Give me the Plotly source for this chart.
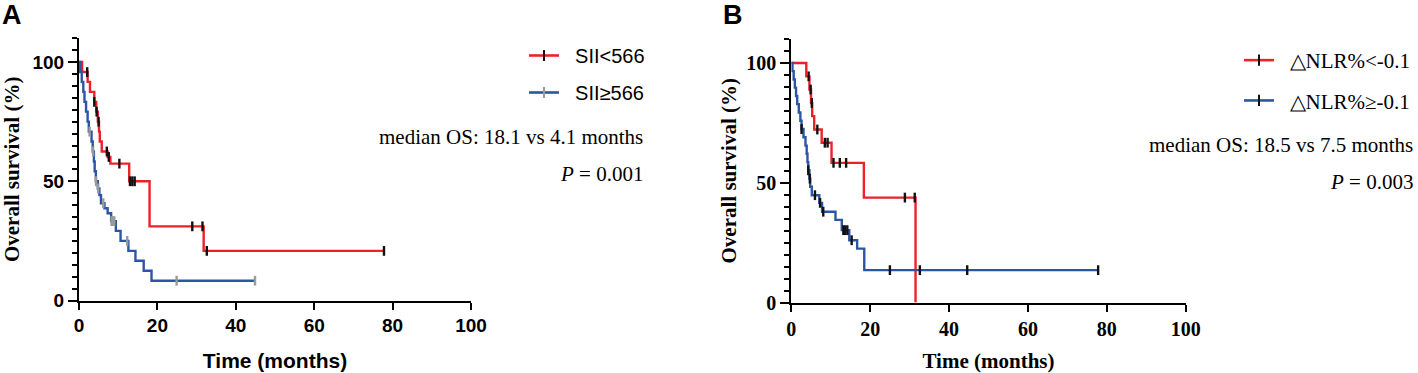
import numpy as np
import plotly.graph_objects as go

W, H = 1418, 373

# ---------------- Data ----------------
# Panel A : SII groups
a_low_t = [0, 0.8, 2.2, 2.8, 3.9, 4.4, 4.8, 5.1, 5.3, 5.8, 7.3, 8.0, 12.8, 18.0, 31.8, 77.8]
a_low_s = [100, 95.8, 91.7, 87.5, 83.3, 79.2, 75.0, 70.8, 66.7, 62.5, 60.2, 57.4, 50.0, 31.1, 20.8, 20.8]
a_low_cens = [2.1, 3.9, 4.5, 5.0, 7.1, 7.6, 10.3, 13.0, 13.6, 14.2, 28.9, 31.5, 32.6, 77.8]

a_high_t = [0, 0.3, 0.7, 1.1, 1.4, 1.8, 2.2, 2.5, 3.2, 3.5, 3.8, 4.0, 4.3, 4.8, 5.2, 5.6,
            6.5, 7.3, 8.2, 9.4, 10.6, 12.6, 14.4, 16.5, 18.5, 44.9]
a_high_s = [100, 95.8, 91.7, 87.5, 83.3, 79.2, 75.0, 70.8, 66.7, 62.5, 58.3, 54.2, 50.0, 47.0, 44.2, 40.8,
            38.7, 36.6, 33.3, 29.2, 25.0, 20.8, 16.7, 12.5, 8.3, 8.3]
a_high_cens = [2.7, 3.6, 4.35, 4.9, 6.2, 8.3, 8.6, 9.0, 12.3, 24.9, 44.9]

a_names = ["SII<566", "SII≥566"]
a_median = "median OS: 18.1 vs 4.1 months"
a_p = "0.001"

# Panel B : ΔNLR% groups
b_low_t = [0, 3.8, 4.6, 5.0, 5.3, 5.8, 7.7, 10.2, 18.4, 31.5]
b_low_s = [100, 94.4, 88.9, 83.3, 77.8, 72.2, 66.7, 58.3, 43.8, 0]
b_low_cens = [4.4, 4.9, 5.2, 6.6, 8.5, 9.2, 10.7, 12.3, 13.9, 28.8, 31.3]

b_high_t = [0, 0.3, 0.6, 0.9, 1.2, 1.5, 1.9, 2.3, 2.6, 3.1, 3.6, 3.9, 4.1, 4.3, 4.6, 4.8, 5.2,
            7.1, 7.8, 11.2, 12.8, 14.7, 16.7, 18.5, 77.8]
b_high_s = [100, 96.6, 93.1, 89.7, 86.2, 82.8, 79.3, 75.9, 72.4, 69.0, 65.5, 62.1, 58.6, 55.2, 51.7, 48.3, 44.8,
            41.6, 37.9, 34.5, 30.2, 26.0, 22.5, 13.5, 13.5]
b_high_cens = [2.6, 4.3, 4.7, 6.0, 7.3, 8.1, 13.2, 13.6, 14.2, 15.3, 25.0, 32.6, 44.6, 77.8]

b_names = ["△NLR%<-0.1", "△NLR%≥-0.1"]
b_median = "median OS: 18.5 vs 7.5 months"
b_p = "0.003"

x_ticks = [0, 20, 40, 60, 80, 100]
y_ticks = [0, 50, 100]

# ---------------- Styling ----------------
RED = "#EC2228"
BLUE = "#2C55A6"
BLACK = "#111111"
GREY = "#9A9A9A"
SANS = "Liberation Sans, Arial, sans-serif"
SERIF = "Liberation Serif, Times New Roman, serif"
NB = "\u00a0\u00a0"  # small gap between legend key and text


def surv_at(ts, ss, t):
    ts = np.asarray(ts, float)
    idx = np.searchsorted(ts, np.asarray(t, float), side="right") - 1
    return np.asarray(ss, float)[idx]


fig = go.Figure()


def add_group(t, s, cens, color, tickcolor, xa, ya, name, legend):
    fig.add_trace(go.Scatter(x=t, y=s, mode="lines", line=dict(color=color, width=2.4, shape="hv"),
                             xaxis=xa, yaxis=ya, showlegend=False, hoverinfo="skip"))
    fig.add_trace(go.Scatter(x=cens, y=surv_at(t, s, cens), mode="markers",
                             marker=dict(symbol="line-ns", size=7, line=dict(width=2.4, color=tickcolor)),
                             xaxis=xa, yaxis=ya, showlegend=False, cliponaxis=False, hoverinfo="skip"))
    # legend entry
    fig.add_trace(go.Scatter(x=[None], y=[None], mode="lines+markers", name=NB + name,
                             line=dict(color=color, width=2.6),
                             marker=dict(symbol="line-ns", size=8, line=dict(width=2, color=tickcolor)),
                             xaxis=xa, yaxis=ya, legend=legend, legendgroup=name))


add_group(a_low_t, a_low_s, a_low_cens, RED, BLACK, "x", "y", a_names[0], "legend")
add_group(a_high_t, a_high_s, a_high_cens, BLUE, GREY, "x", "y", a_names[1], "legend")
add_group(b_low_t, b_low_s, b_low_cens, RED, BLACK, "x2", "y2", b_names[0], "legend2")
add_group(b_high_t, b_high_s, b_high_cens, BLUE, BLACK, "x2", "y2", b_names[1], "legend2")


def px_x(p):
    return p / W


def px_y(p):
    return (H - p) / H


def xaxis_cfg(dom, fam, fsize, tsize, standoff):
    return dict(domain=dom, range=[0, 100], tickvals=x_ticks, showline=True, linecolor="black", linewidth=2,
                ticks="outside", ticklen=7, tickwidth=2, tickcolor="black", showgrid=False, zeroline=False,
                automargin=False,
                tickfont=dict(family=fam, size=fsize, color="black", weight="bold"),
                title=dict(text="Time (months)", font=dict(family=fam, size=tsize, color="black", weight="bold"),
                           standoff=standoff),
                fixedrange=True)


def yaxis_cfg(dom, anchor, fam, fsize, tsize, standoff):
    return dict(domain=dom, anchor=anchor, range=[0, 110], tickvals=y_ticks, showline=True, linecolor="black",
                linewidth=2, ticks="outside", ticklen=9, tickwidth=2, tickcolor="black", showgrid=False,
                zeroline=False, automargin=False,
                minor=dict(tickmode="linear", tick0=0, dtick=5, ticks="outside", ticklen=5, tickwidth=2,
                           tickcolor="black", showgrid=False),
                tickfont=dict(family=fam, size=fsize, color="black", weight="bold"),
                title=dict(text="Overall survival (%)",
                           font=dict(family=SERIF, size=tsize, color="black", weight="bold"), standoff=standoff),
                fixedrange=True)


fig.update_layout(
    template="none",
    width=W, height=H, margin=dict(l=0, r=0, t=0, b=0, pad=0, autoexpand=False),
    paper_bgcolor="white", plot_bgcolor="white",
    xaxis=xaxis_cfg([px_x(79), px_x(471)], SANS, 19, 21, 18) | dict(anchor="y"),
    yaxis=yaxis_cfg([px_y(300.5), px_y(38.2)], "x", SANS, 19, 21, 8),
    xaxis2=xaxis_cfg([px_x(791.3), px_x(1185.7)], SERIF, 20, 21, 17) | dict(anchor="y2"),
    yaxis2=yaxis_cfg([px_y(302.5), px_y(39.0)], "x2", SERIF, 20, 21, 4),
    legend=dict(x=px_x(524), y=px_y(36), xanchor="left", yanchor="top", bgcolor="rgba(0,0,0,0)",
                font=dict(family=SANS, size=20, color="black"), itemwidth=30, tracegroupgap=8,
                traceorder="grouped"),
    legend2=dict(x=px_x(1239), y=px_y(40), xanchor="left", yanchor="top", bgcolor="rgba(0,0,0,0)",
                 font=dict(family=SERIF, size=21, color="black"), itemwidth=30, tracegroupgap=10,
                 traceorder="grouped"),
    showlegend=True,
)

ann_font = dict(family=SERIF, size=21, color="black")
annotations = [
    dict(text=a_median, x=px_x(645), y=px_y(137), xanchor="right", yanchor="middle", font=ann_font),
    dict(text="<i>P</i> = " + a_p, x=px_x(645), y=px_y(174), xanchor="right", yanchor="middle", font=ann_font),
    dict(text=b_median, x=px_x(1415), y=px_y(145), xanchor="right", yanchor="middle", font=ann_font),
    dict(text="<i>P</i> = " + b_p, x=px_x(1415), y=px_y(182), xanchor="right", yanchor="middle", font=ann_font),
    dict(text="<b>A</b>", x=px_x(0), y=px_y(15), xanchor="left", yanchor="middle",
         font=dict(family=SANS, size=27, color="black")),
    dict(text="<b>B</b>", x=px_x(721), y=px_y(15), xanchor="left", yanchor="middle",
         font=dict(family=SANS, size=27, color="black")),
]
for a in annotations:
    a.update(xref="paper", yref="paper", showarrow=False)
fig.update_layout(annotations=annotations)

fig.write_html("out.html", config={"displayModeBar": False, "staticPlot": True},
               post_script="document.body.style.margin='0';document.body.style.overflow='hidden';")
